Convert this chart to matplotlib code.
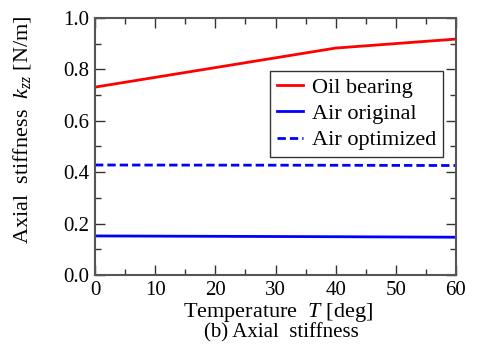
import matplotlib
matplotlib.use("Agg")
import matplotlib.pyplot as plt
from matplotlib.ticker import MultipleLocator

plt.rcParams["font.family"] = ["Liberation Serif", "DejaVu Serif"]
plt.rcParams["mathtext.fontset"] = "custom"
plt.rcParams["mathtext.it"] = "Liberation Serif:italic"
plt.rcParams["mathtext.rm"] = "Liberation Serif"

temperature_deg = [0, 40, 60]
oil_bearing = [0.731, 0.883, 0.918]
air_original = [0.152, 0.149, 0.147]
air_optimized = [0.428, 0.427, 0.426]

fig = plt.figure(figsize=(4.78, 3.6), dpi=100)
ax = fig.add_axes([95 / 478, 1 - 275 / 360, 361 / 478, 257 / 360])

ax.plot(temperature_deg, oil_bearing, color="red", lw=2, label="Oil bearing")
ax.plot(temperature_deg, air_original, color="blue", lw=2, label="Air original")
ax.plot(temperature_deg, air_optimized, color="blue", lw=2, ls=(0, (3, 1.45)),
        label="Air optimized")

ax.set_xlim(0, 60)
ax.set_ylim(0, 1.0)
ax.xaxis.set_major_locator(MultipleLocator(10))
ax.xaxis.set_minor_locator(MultipleLocator(5))
ax.yaxis.set_major_locator(MultipleLocator(0.2))
ax.yaxis.set_minor_locator(MultipleLocator(0.1))
ax.yaxis.set_major_formatter(plt.FormatStrFormatter("%.1f"))
ax.tick_params(which="both", direction="in", top=True, right=True,
               labelsize=15, color="#333333")
ax.tick_params(which="major", length=7, width=1, pad=4)
ax.tick_params(which="minor", length=4, width=1)
for spine in ax.spines.values():
    spine.set_color("#555555")
    spine.set_linewidth(1.5)

ax.set_xlabel(r"Temperature  $T$ [deg]", fontsize=16)
ax.xaxis.set_label_coords(0.508, -0.1)
ax.set_ylabel(r"Axial  stiffness  $k_{zz}$ [N/m]", fontsize=16)
ax.yaxis.set_label_coords(-0.172, 0.564)

fig.text(281 / 478, 1 - 333 / 360, "(b) Axial  stiffness", fontsize=15,
         ha="center", va="center")
fig.text(88 / 478, 1 - 367 / 360, "10", fontsize=9, ha="center", va="center")

leg = ax.legend(loc="upper right", bbox_to_anchor=(0.964, 0.794), fontsize=16,
                frameon=True, fancybox=False, edgecolor="black",
                handlelength=1.2, handletextpad=0.4, borderpad=0.3,
                labelspacing=0.25, borderaxespad=0)
leg.get_frame().set_linewidth(1)

fig.savefig("out.png", dpi=100)
